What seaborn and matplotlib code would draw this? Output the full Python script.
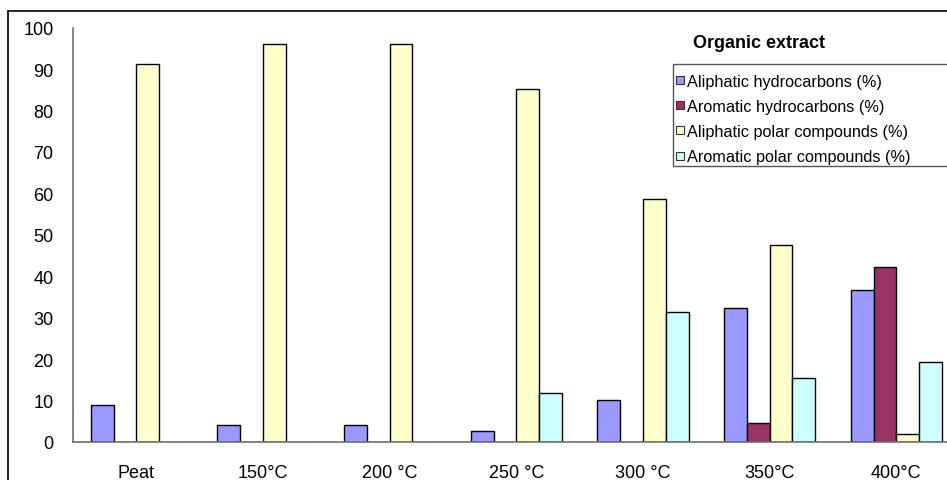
import pandas as pd
import matplotlib
matplotlib.use("Agg")
import matplotlib.pyplot as plt
from matplotlib.lines import Line2D
from matplotlib.patches import Rectangle
import seaborn as sns

# data
categories = ['Peat', '150°C', '200 °C', '250 °C', '300 °C', '350°C', '400°C']
series_names = ['Aliphatic hydrocarbons (%)', 'Aromatic hydrocarbons (%)',
                'Aliphatic polar compounds (%)', 'Aromatic polar compounds (%)']
aliphatic_hc = [8.9, 4.2, 4.2, 2.7, 10.1, 32.3, 36.6]
aromatic_hc = [0, 0, 0, 0, 0, 4.5, 42.3]
aliphatic_polar = [91.2, 96.0, 96.0, 85.3, 58.7, 47.6, 1.9]
aromatic_polar = [0, 0, 0, 11.9, 31.3, 15.5, 19.3]
colors = ['#9999FF', '#993366', '#FFFFCC', '#CCFFFF']

rows = []
for name, vals in zip(series_names, [aliphatic_hc, aromatic_hc, aliphatic_polar, aromatic_polar]):
    for cat, v in zip(categories, vals):
        rows.append({'Sample': cat, 'Fraction': name, 'Value': v})
df = pd.DataFrame(rows)

sns.set_theme(style='white')
plt.rcParams['font.family'] = ['Liberation Sans', 'DejaVu Sans']
plt.rcParams['text.color'] = 'black'

fig = plt.figure(figsize=(9.47, 4.81), dpi=100)
ax = fig.add_axes([73 / 947, 1 - 443 / 481, 1 - 73 / 947, (443 - 28.7) / 481])

sns.barplot(data=df, x='Sample', y='Value', hue='Fraction', order=categories,
            hue_order=series_names, palette=colors, width=0.72, gap=0,
            edgecolor='black', linewidth=1, saturation=1, legend=False, ax=ax)

ax.set_ylim(0, 100)
ax.set_xlim(-0.5, 6.4)
ax.set_yticks(range(0, 101, 10))
ax.set_xlabel('')
ax.set_ylabel('')
ax.set_xticks(range(len(categories)))
ax.set_xticklabels(categories)
ax.set_xticks([i + 0.5 for i in range(-1, 6)], minor=True)
ax.tick_params(axis='x', which='major', length=0, pad=16, labelsize=13, labelcolor='black')
ax.tick_params(axis='x', which='minor', length=5, width=1, color='#555555', direction='out')
ax.tick_params(axis='y', length=5, width=1, color='#555555', direction='out', labelsize=13,
               pad=9, labelcolor='black')
for s in ['top', 'right']:
    ax.spines[s].set_visible(False)
for s in ['left', 'bottom']:
    ax.spines[s].set_color('#707070')
    ax.spines[s].set_linewidth(1.2)

# outer chart-area frame (only top and left visible, the rest is cropped)
fig.add_artist(Line2D([8 / 947, 1], [1 - 12 / 481] * 2, transform=fig.transFigure, color='black', lw=1.2))
fig.add_artist(Line2D([8 / 947] * 2, [0, 1 - 12 / 481], transform=fig.transFigure, color='black', lw=1.2))

# legend box runs past the right edge of the picture
fig.add_artist(Rectangle((672.5 / 947, 1 - 166.5 / 481), (290 - 12) / 947, (166.5 - 65) / 481,
                         transform=fig.transFigure, facecolor='white', edgecolor='#555555', lw=1))

handles = [Line2D([], [], marker='s', linestyle='none', markersize=5.5, markerfacecolor=c,
                  markeredgecolor='#333333', markeredgewidth=0.8) for c in colors]
leg = fig.legend(handles, series_names, loc='upper left', bbox_to_anchor=(676 / 947, 1 - 75 / 481),
                 fontsize=11.7, frameon=False, borderaxespad=0, borderpad=0,
                 handlelength=0.45, handletextpad=0.2, labelspacing=0.62)

fig.text(693 / 947, 1 - 43 / 481, 'Organic extract', fontsize=13, fontweight='bold', va='center', ha='left')

fig.savefig('out.png', dpi=100)
